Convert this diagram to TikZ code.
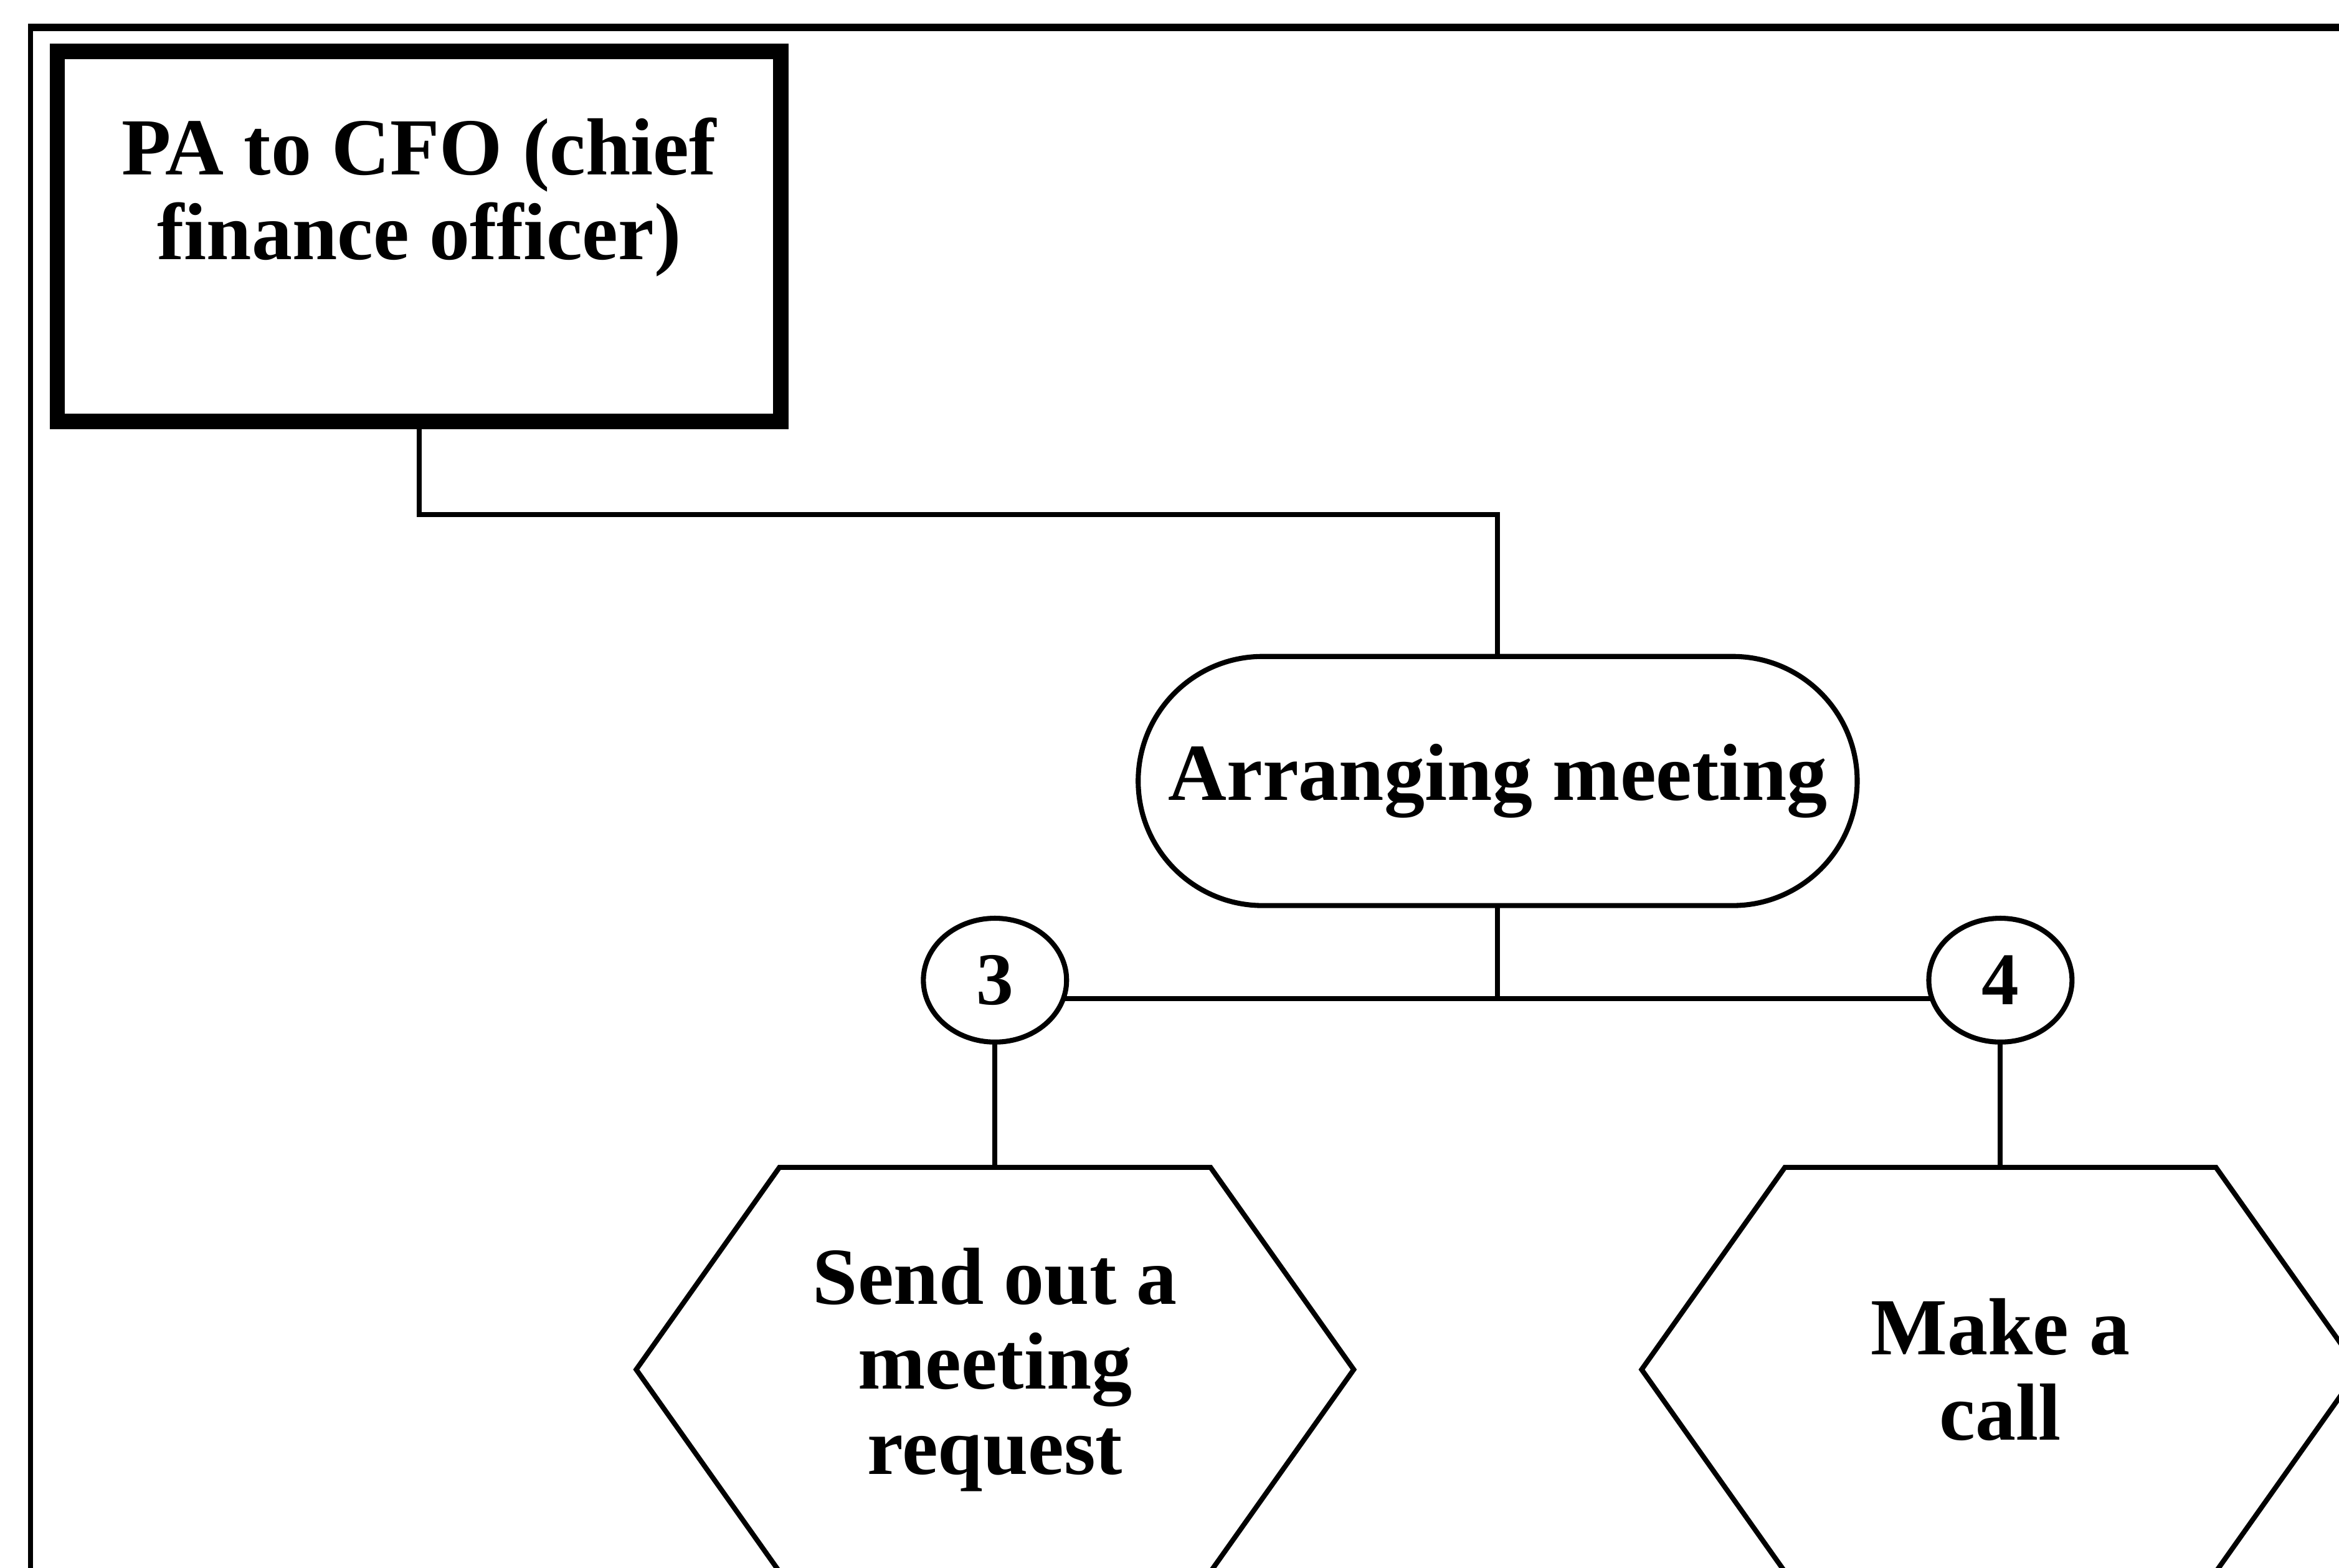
\documentclass[tikz,border=0pt]{standalone}
\usepackage{fontspec}
\setmainfont{Liberation Serif}
\usetikzlibrary{shapes.misc,shapes.geometric,calc}

\begin{document}
\begin{tikzpicture}[
  x=0.02395cm, y=-0.02395cm,
  every node/.style={outer sep=0pt, inner sep=0pt, align=center,
    font=\bfseries\fontsize{37}{38.8}\selectfont},
  link/.style={line width=2.3pt},
  outline/.style={line width=2.3pt},
  rolebox/.style={draw, line width=7pt, rectangle,
    minimum width={485*0.02395cm}, minimum height={248*0.02395cm}},
  taskbox/.style={draw, outline, rounded rectangle,
    minimum width={482*0.02395cm}, minimum height={167*0.02395cm}},
  stepnum/.style={draw, outline, ellipse,
    minimum width={96*0.02395cm}, minimum height={83*0.02395cm},
    font=\bfseries\fontsize{34}{36}\selectfont},
  actarea/.style={minimum width={481*0.02395cm}, minimum height={271*0.02395cm}},
]
\useasboundingbox (0,0) rectangle (1568,1051);
\clip (0,0) rectangle (1568,1051);
\fill[white] (0,0) rectangle (1568,1051);

% outer frame (continues past the right and bottom edges)
\draw[line width=3.4pt] (18.8,18.4) -- (1620,18.4);
\draw[line width=2.3pt] (20.5,18.4) -- (20.5,1080);

% nodes
\node[rolebox] (pa) at (281,158.5) {PA to CFO (chief\\finance officer)\\[5pt]\mbox{}};
\node[taskbox] (arr) at (1004,523.5) {Arranging meeting};
\node[stepnum] (c3) at (667,657) {3};
\node[stepnum] (c4) at (1341,657) {4};
\node[actarea] (h1) at (667,918) {Send out a\\meeting\\request};
\node[actarea] (h2) at (1341,918) {Make a\\call};

% hexagonal outlines of the two actions
\foreach \h in {h1,h2}{
  \draw[outline, line join=miter]
    ($(\h.north west)+(96,0)$) -- ($(\h.north east)+(-96,0)$) -- (\h.east)
    -- ($(\h.south east)+(-96,0)$) -- ($(\h.south west)+(96,0)$) -- (\h.west) -- cycle;
}

% connectors
\draw[link] (pa.south) -- ++(0,62.5) -| (arr.north);
\coordinate (j) at (1004,669);
\draw[link] (arr.south) -- (j);
\draw[link] (c3.-15) -- (c4.195);
\draw[link] (c3.south) -- (h1.north);
\draw[link] (c4.south) -- (h2.north);
\end{tikzpicture}
\end{document}
